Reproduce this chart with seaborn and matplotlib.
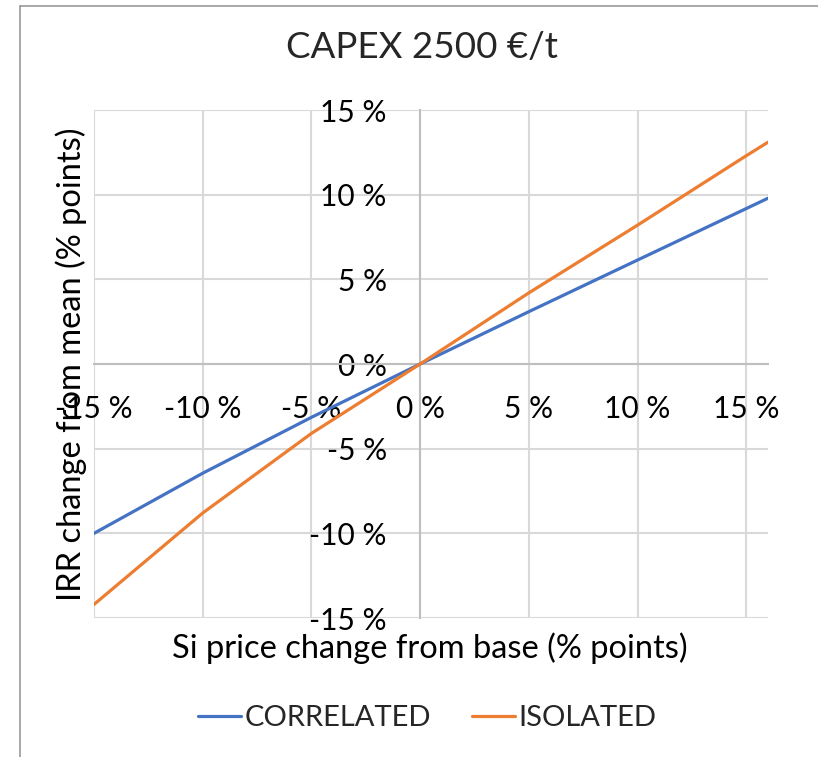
import matplotlib
matplotlib.use("Agg")
import matplotlib.pyplot as plt
import seaborn as sns
import pandas as pd
from matplotlib.lines import Line2D

# ---- data ----
si_price_change = [-15, -10, -5, 0, 5, 10, 15, 16]
correlated = [-10.0, -6.45, -3.15, 0.0, 3.09, 6.14, 9.18, 9.79]
isolated = [-14.2, -8.8, -4.1, 0.0, 4.2, 8.2, 12.3, 13.1]
series_names = ["CORRELATED", "ISOLATED"]
x_ticks = [-15, -10, -5, 0, 5, 10, 15]
y_ticks = [-15, -10, -5, 0, 5, 10, 15]
title = "CAPEX 2500 €/t"
xlabel = "Si price change from base (% points)"
ylabel = "IRR change from mean (% points)"

df = pd.DataFrame({
    "x": si_price_change * 2,
    "y": correlated + isolated,
    "series": [series_names[0]] * len(si_price_change) + [series_names[1]] * len(si_price_change),
})

sns.set_theme(style="white")
plt.rcParams["font.family"] = ["Lato", "DejaVu Sans"]

W, H = 818, 757
fig = plt.figure(figsize=(W / 100, H / 100), dpi=100)
ax = fig.add_axes([94 / W, 1 - 618 / H, (768 - 94) / W, (618 - 110) / H])

palette = {"CORRELATED": "#4472C4", "ISOLATED": "#ED7D31"}
sns.lineplot(data=df, x="x", y="y", hue="series", palette=palette, ax=ax,
             linewidth=2.3, legend=False, zorder=3)

ax.set_xlim(-15, 16)
ax.set_ylim(-15, 15)
ax.set_xticks(x_ticks)
ax.set_yticks(y_ticks)
ax.set_xticklabels([f"{v} %" for v in x_ticks])
ax.set_yticklabels([f"{v} %" for v in y_ticks])
ax.grid(True, color="#D9D9D9", linewidth=1.5)
ax.set_axisbelow(True)

for s in ["top", "right"]:
    ax.spines[s].set_visible(False)
ax.spines["left"].set_position(("data", 0))
ax.spines["bottom"].set_position(("data", 0))
for s in ["left", "bottom"]:
    ax.spines[s].set_color("#BFBFBF")
    ax.spines[s].set_linewidth(1.5)
    ax.spines[s].set_zorder(2)

ax.tick_params(axis="both", length=0, labelsize=21.5, labelcolor="black")
ax.tick_params(axis="y", pad=24)
ax.tick_params(axis="x", pad=22)

ax.set_xlabel(xlabel, fontsize=23.5, color="black")
ax.set_ylabel(ylabel, fontsize=23.5, color="black")
ax.xaxis.set_label_coords((430 - 94) / (768 - 94), (618 - 648) / (618 - 110))
ax.xaxis.label.set_va("center")
ax.yaxis.set_label_coords((71 - 94) / (768 - 94), (618 - 364) / (618 - 110))
ax.yaxis.label.set_va("center")

fig.text(422 / W, 1 - 47 / H, title, fontsize=26.5, ha="center", va="center")

handles = [Line2D([], [], color=palette[n], linewidth=2.3) for n in series_names]
fig.legend(handles, series_names, loc="center", bbox_to_anchor=(427 / W, 1 - 718 / H),
           ncol=2, frameon=False, fontsize=21, handlelength=1.5, handletextpad=0.1,
           columnspacing=1.4)

# screenshot border lines (left and top)
fig.add_artist(Line2D([20 / W, 20 / W], [0, 1 - 6 / H], transform=fig.transFigure,
                      color="#999999", linewidth=1.2))
fig.add_artist(Line2D([20 / W, 1], [1 - 6 / H, 1 - 6 / H], transform=fig.transFigure,
                      color="#999999", linewidth=1.2))

fig.savefig("out.png", dpi=100)
